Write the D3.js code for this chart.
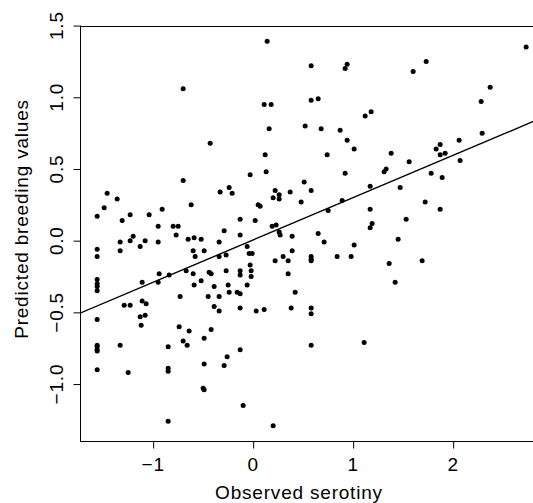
<!DOCTYPE html>
<html>
<head>
<meta charset="utf-8">
<script src="https://cdn.jsdelivr.net/npm/d3@7"></script>
<style>
  html, body { margin: 0; padding: 0; background: #fff; }
  svg { display: block; }
  text { font-family: "Liberation Sans", Arial, Helvetica, sans-serif; fill: #000; }
</style>
</head>
<body>
<script>
// ---- data ----
const serotiny = [
  -0.70,-0.43,-0.70,-1.46,-0.33,-0.24,-0.21,-1.36,-1.49,-1.56,
  -1.31,-1.23,-1.04,-0.91,-0.62,-0.95,-0.80,-0.75,-0.29, 0.14,
   0.58, 0.94, 0.92, 0.11, 0.18, 0.58, 0.65, 1.12, 1.18, 0.16,
   0.52, 0.68, 0.87, 0.94, 1.01, 0.12, 0.74, 0.13,-0.03, 0.92,
   1.31, 0.51, 0.58, 0.22, 0.20, 0.26, 0.26, 0.37, 0.05, 0.07,
   0.48, 1.17, 0.89, 0.75, 1.17,-0.13, 0.02, 0.19, 0.23, 1.19,
   1.17, 2.73, 1.73, 1.60, 2.37, 2.28, 2.29, 2.06, 1.38, 1.83,
   1.87, 1.87, 1.92, 1.33, 1.56, 2.07, 1.78, 1.89, 1.47, 1.72,
   1.87, 1.53, 1.45, 1.36, 1.69, 1.42,-0.77,-0.65,-0.59,-0.52,
  -1.20,-1.23,-1.33,-1.08,-0.95,-1.13,-0.34,-1.56,-1.56,-1.33,
  -0.60,-0.58,-0.49,-0.34,-0.27,-1.56,-1.56,-1.56,-1.56,-1.11,
  -0.94,-0.95,-0.84,-0.67,-0.60,-0.44,-0.42,-0.27,-0.52,-0.59,
  -0.39,-0.25,-0.24,-0.73,-0.45,-0.34,-1.29,-1.23,-1.11,-1.07,
  -0.39,-0.34,-1.56,-1.13,-1.08,-1.12,-0.74,-0.64,-0.42,-0.70,
  -0.66,-0.49,-1.56,-1.56,-1.56,-1.56,-1.33,-0.85,-0.26,-0.29,
  -0.49,-1.56,-1.25,-0.85,-0.85,-0.50,-0.49,-0.85,-0.13, 0.26,
   0.27, 0.39, 0.65, 0.71, 1.01,-0.06,-0.04,-0.01, 0.22, 0.30,
   0.35, 0.39, 0.58, 0.58, 0.58, 0.84, 0.98,-0.13,-0.13,-0.03,
  -0.02,-0.02, 0.35,-0.06,-0.16,-0.13, 0.42,-0.13, 0.03, 0.11,
   0.38, 0.58, 0.58,-0.13, 0.58, 1.11,-0.10, 0.20
];
const breeding = [
   1.06, 0.68, 0.42, 0.33, 0.34, 0.37, 0.33, 0.29, 0.23, 0.17,
   0.14, 0.18, 0.18, 0.22, 0.25, 0.10, 0.10, 0.10, 0.07, 1.39,
   1.22, 1.23, 1.20, 0.95, 0.95, 0.98, 0.99, 0.87, 0.90, 0.78,
   0.80, 0.78, 0.77, 0.70, 0.64, 0.60, 0.60, 0.48, 0.46, 0.47,
   0.48, 0.41, 0.35, 0.35, 0.30, 0.32, 0.29, 0.34, 0.25, 0.24,
   0.27, 0.38, 0.28, 0.21, 0.22, 0.15, 0.14, 0.10, 0.11, 0.12,
   0.09, 1.35, 1.25, 1.18, 1.07, 0.97, 0.75, 0.70, 0.61, 0.64,
   0.67, 0.60, 0.61, 0.50, 0.55, 0.56, 0.47, 0.44, 0.37, 0.27,
   0.22, 0.15, 0.01,-0.16,-0.14,-0.29, 0.04, 0.01, 0.02, 0.01,
   0.03, 0.00,-0.01, 0.00,-0.01,-0.04,-0.01,-0.06,-0.11,-0.07,
  -0.07,-0.11,-0.07,-0.11,-0.10,-0.27,-0.30,-0.32,-0.35,-0.29,
  -0.23,-0.29,-0.24,-0.21,-0.23,-0.22,-0.23,-0.21,-0.28,-0.31,
  -0.32,-0.31,-0.36,-0.39,-0.39,-0.39,-0.45,-0.45,-0.42,-0.44,
  -0.46,-0.49,-0.55,-0.53,-0.52,-0.59,-0.60,-0.63,-0.62,-0.70,
  -0.73,-0.68,-0.73,-0.74,-0.76,-0.77,-0.73,-0.74,-0.81,-0.87,
  -0.86,-0.90,-0.92,-0.89,-0.91,-1.03,-1.04,-1.26, 0.04, 0.06,
   0.04, 0.03, 0.05,-0.01,-0.03,-0.04,-0.09,-0.09,-0.14,-0.11,
  -0.14,-0.07,-0.11,-0.13,-0.14,-0.11,-0.11,-0.21,-0.24,-0.17,
  -0.21,-0.25,-0.23,-0.31,-0.36,-0.37,-0.36,-0.47,-0.49,-0.48,
  -0.47,-0.47,-0.51,-0.76,-0.73,-0.71,-1.15,-1.29
];
const fitLine = [0.005, 0.295];          // intercept, slope
const xTicks = [-1, 0, 1, 2];
const yTicks = [-1.0, -0.5, 0.0, 0.5, 1.0, 1.5];
const xTitle = "Observed serotiny";
const yTitle = "Predicted breeding values";

// ---- layout ----
const W = 533, H = 503;
const mLeft = 80, mTop = 26, plotW = 463.3, plotH = 415;

const svg = d3.select("body").append("svg")
  .attr("width", W).attr("height", H);

// R-style 4% padding of the data range
function padded(arr) {
  const [lo, hi] = d3.extent(arr);
  const p = (hi - lo) * 0.04;
  return [lo - p, hi + p];
}
const x = d3.scaleLinear().domain(padded(serotiny)).range([mLeft, mLeft + plotW]);
const y = d3.scaleLinear().domain(padded(breeding)).range([mTop + plotH, mTop]);

svg.append("defs").append("clipPath").attr("id", "clip")
  .append("rect").attr("x", mLeft).attr("y", mTop).attr("width", plotW).attr("height", plotH);

const fmtY = d => d3.format(".1f")(d);
const fmtX = d => d3.format("d")(d);

const textStyle = sel => sel.style("font-size", "19px").style("letter-spacing", "0.8px");

// y axis
const yAxis = svg.append("g").attr("transform", `translate(${mLeft + 0.5},0)`)
  .call(d3.axisLeft(y).tickValues(yTicks).tickSize(7).tickFormat(""));
yAxis.select(".domain").remove();
yAxis.selectAll("line").attr("stroke", "#000").attr("stroke-width", 1);
svg.append("line").attr("x1", mLeft + 0.5).attr("x2", mLeft + 0.5)
  .attr("y1", y(yTicks[0])).attr("y2", y(yTicks[yTicks.length - 1]))
  .attr("stroke", "#000");
svg.selectAll("text.ytick").data(yTicks).enter().append("text")
  .attr("class", "ytick")
  .attr("transform", d => `translate(63,${y(d)}) rotate(-90)`)
  .attr("text-anchor", "middle")
  .call(textStyle)
  .text(fmtY);

// x axis
const xAxis = svg.append("g").attr("transform", `translate(0,${mTop + plotH + 0.5})`)
  .call(d3.axisBottom(x).tickValues(xTicks).tickSize(7).tickFormat(""));
xAxis.select(".domain").remove();
xAxis.selectAll("line").attr("stroke", "#000").attr("stroke-width", 1);
svg.selectAll("text.xtick").data(xTicks).enter().append("text")
  .attr("class", "xtick")
  .attr("x", d => x(d)).attr("y", 471)
  .attr("text-anchor", "middle")
  .call(textStyle)
  .text(fmtX);

// box
svg.append("rect")
  .attr("x", mLeft + 0.5).attr("y", mTop + 0.5)
  .attr("width", plotW).attr("height", plotH)
  .attr("fill", "none").attr("stroke", "#000").attr("stroke-width", 1);

// points
const pts = serotiny.map((v, i) => ({ sx: v, by: breeding[i] }));
svg.append("g").attr("clip-path", "url(#clip)")
  .selectAll("circle").data(pts).enter().append("circle")
  .attr("cx", d => x(d.sx)).attr("cy", d => y(d.by))
  .attr("r", 2.5).attr("fill", "#000");

// regression line
const [x0, x1] = x.domain();
svg.append("g").attr("clip-path", "url(#clip)")
  .append("line")
  .attr("x1", x(x0)).attr("y1", y(fitLine[0] + fitLine[1] * x0))
  .attr("x2", x(x1)).attr("y2", y(fitLine[0] + fitLine[1] * x1))
  .attr("stroke", "#000").attr("stroke-width", 1.4);

// titles
svg.append("text")
  .attr("x", 299).attr("y", 498.5)
  .attr("text-anchor", "middle")
  .call(textStyle)
  .text(xTitle);
svg.append("text")
  .attr("transform", `translate(28,219) rotate(-90)`)
  .attr("text-anchor", "middle")
  .call(textStyle)
  .text(yTitle);
</script>
</body>
</html>
